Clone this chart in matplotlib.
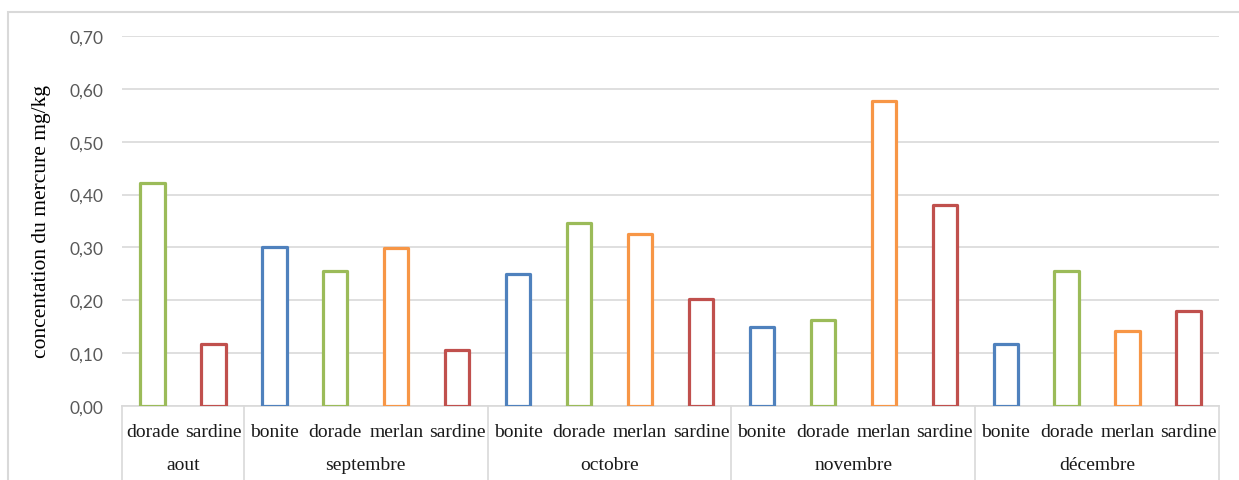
import matplotlib
matplotlib.use('Agg')
import matplotlib.pyplot as plt
import matplotlib.patches as patches
import matplotlib.transforms as mtransforms
from matplotlib.ticker import FuncFormatter

# Données : concentration du mercure (mg/kg) par mois et par espèce
mois = ['aout', 'septembre', 'octobre', 'novembre', 'décembre']
especes = [
    ['dorade', 'sardine'],
    ['bonite', 'dorade', 'merlan', 'sardine'],
    ['bonite', 'dorade', 'merlan', 'sardine'],
    ['bonite', 'dorade', 'merlan', 'sardine'],
    ['bonite', 'dorade', 'merlan', 'sardine'],
]
valeurs = [
    [0.422, 0.118],
    [0.30, 0.255, 0.298, 0.106],
    [0.25, 0.346, 0.326, 0.203],
    [0.15, 0.162, 0.577, 0.38],
    [0.118, 0.256, 0.142, 0.179],
]
couleurs = {'bonite': '#4f81bd', 'dorade': '#9bbb59', 'merlan': '#f79646', 'sardine': '#c0504d'}

fig = plt.figure(figsize=(12.39, 4.81), dpi=100)
ax = fig.add_axes([122 / 1239, 74 / 481, 1097 / 1239, 370 / 481])

# Barres creuses
x = 0
bornes = [-0.5]
labels_x = []
for m, esp, vals in zip(mois, especes, valeurs):
    for e, v in zip(esp, vals):
        ax.bar(x, v, width=0.4, facecolor='white', edgecolor=couleurs[e],
               linewidth=2.3, joinstyle='round', zorder=3)
        labels_x.append((x, e))
        x += 1
    bornes.append(x - 0.5)

ax.set_xlim(-0.5, x - 0.5)
ax.set_ylim(0, 0.70)
ax.set_yticks([i / 10 for i in range(8)])
ax.yaxis.set_major_formatter(FuncFormatter(lambda v, p: f'{v:.2f}'.replace('.', ',')))
ax.tick_params(axis='y', length=0, pad=13.5, labelsize=12.5, labelcolor='#595959')
for lab in ax.get_yticklabels():
    lab.set_fontfamily('Lato')
ax.set_xticks([])
ax.grid(axis='y', color='#d9d9d9', linewidth=1.2, zorder=0)
for s in ['top', 'right', 'left']:
    ax.spines[s].set_visible(False)
ax.spines['bottom'].set_color('#d9d9d9')
ax.spines['bottom'].set_linewidth(1.2)

ax.set_ylabel('concentation du mercure mg/kg', family='Liberation Serif', fontsize=15.5, color='black')
ax.yaxis.set_label_coords(-0.0647, 0.5)

# Axe des catégories à deux niveaux
trans = mtransforms.blended_transform_factory(ax.transData, fig.transFigure)
for xi, e in labels_x:
    ax.text(xi, 48 / 481, e, transform=trans, ha='center', va='center',
            family='Liberation Serif', fontsize=14, color='#1a1a1a')
for i, m in enumerate(mois):
    ax.text((bornes[i] + bornes[i + 1]) / 2, 15 / 481, m, transform=trans, ha='center',
            va='center', family='Liberation Serif', fontsize=14, color='#1a1a1a')
for b in bornes:
    ax.plot([b, b], [74 / 481, 0], transform=trans, color='#d9d9d9', linewidth=1.2, clip_on=False)

# Bordure du graphique
fig.patches.append(patches.Rectangle((8 / 1239, -0.1), 1.2, 1.1 - 13 / 481,
                                     transform=fig.transFigure, fill=False,
                                     edgecolor='#d9d9d9', linewidth=1.5))

fig.savefig('out.png', dpi=100)
